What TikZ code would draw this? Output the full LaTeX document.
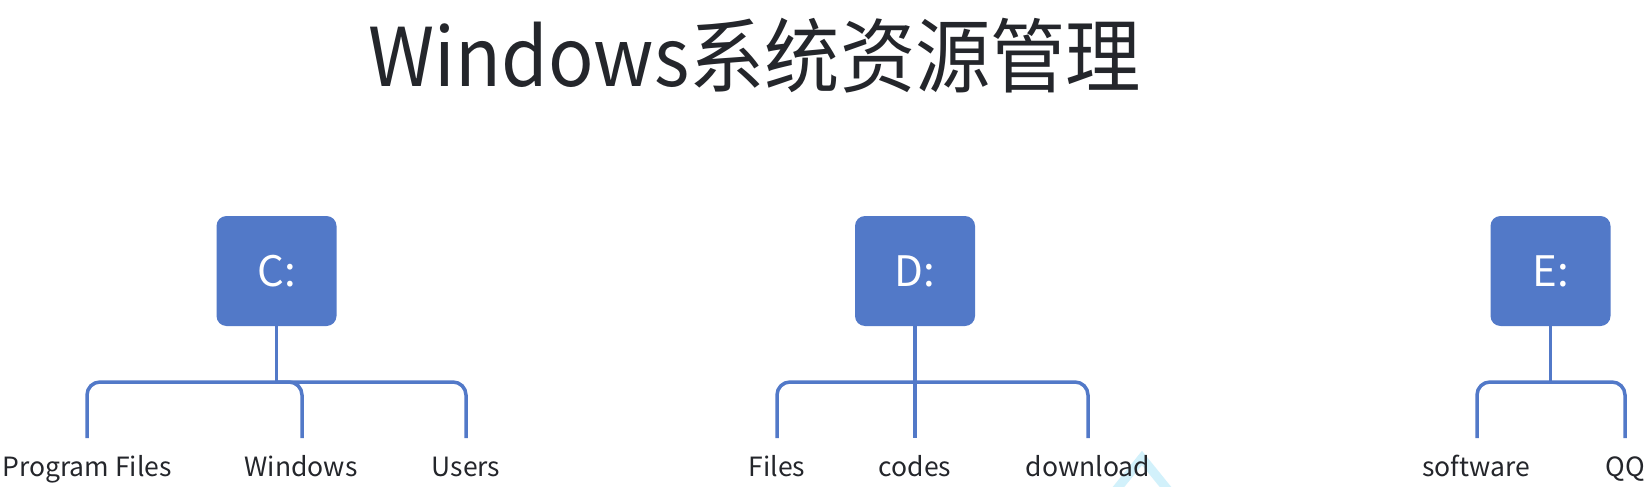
\documentclass[tikz,border=0pt]{standalone}
\usepackage{fontspec}
\setmainfont{Noto Sans CJK SC}
\newfontfamily\titlefont[FakeStretch=0.93]{Noto Sans CJK SC}
\definecolor{boxblue}{HTML}{5279C8}
\definecolor{ink}{HTML}{24262B}
\definecolor{wm}{HTML}{D2F1FB}
\begin{document}
\begin{tikzpicture}[x=1pt,y=-1pt,
  drive/.style={fill=boxblue, rounded corners=10pt, minimum width=120pt, minimum height=110pt, inner sep=0pt, text=white, font=\fontsize{42}{42}\selectfont},
  leaf/.style={anchor=base, inner sep=0pt, text=ink, font=\fontsize{26.5}{26.5}\selectfont},
  conn/.style={draw=boxblue, line width=3.5pt, rounded corners=13pt}]
\useasboundingbox[fill=white] (0,0) rectangle (1647,487);
% watermark chevron
\begin{scope}
\clip (0,0) rectangle (1647,487);
\draw[wm, line width=9pt] (1112,495) -- (1142,458) -- (1172,495);
\end{scope}
% title
\node[anchor=base, inner sep=0pt, text=ink, font=\titlefont\fontsize{81}{81}\selectfont] (title) at (755,86) {Windows系统资源管理};
% drives
\node[drive] (C) at (276.5,271) {C:};
\node[drive] (D) at (915,271) {D:};
\node[drive] (E) at (1550.5,271) {E:};
% junctions and branch ends
\coordinate (cj) at (276.5,382);
\coordinate (dj) at (915,382);
\coordinate (ej) at (1550.5,382);
\coordinate (pft) at (87,438);
\coordinate (wint) at (302,438);
\coordinate (ust) at (466,438);
\coordinate (ft) at (777,438);
\coordinate (ct) at (915,438);
\coordinate (dlt) at (1088,438);
\coordinate (swt) at (1477,438);
\coordinate (qqt) at (1625,438);
% labels
\node[leaf] (pf) at (87,476) {Program Files};
\node[leaf] (win) at (301,476) {Windows};
\node[leaf] (us) at (466,476) {Users};
\node[leaf] (fi) at (777,476) {Files};
\node[leaf] (co) at (915,476) {codes};
\node[leaf] (dl) at (1088,476) {download};
\node[leaf] (sw) at (1476,476) {software};
\node[leaf] (qq) at (1625,476) {QQ};
% connectors
\draw[conn] (C.south) -- (cj);
\draw[conn] (pft) |- (cj) -| (wint);
\draw[conn] (cj) -| (ust);
\draw[conn] (D.south) -- (ct);
\draw[conn] (ft) |- (dj) -| (dlt);
\draw[conn] (E.south) -- (ej);
\draw[conn] (swt) |- (ej) -| (qqt);
\end{tikzpicture}
\end{document}
